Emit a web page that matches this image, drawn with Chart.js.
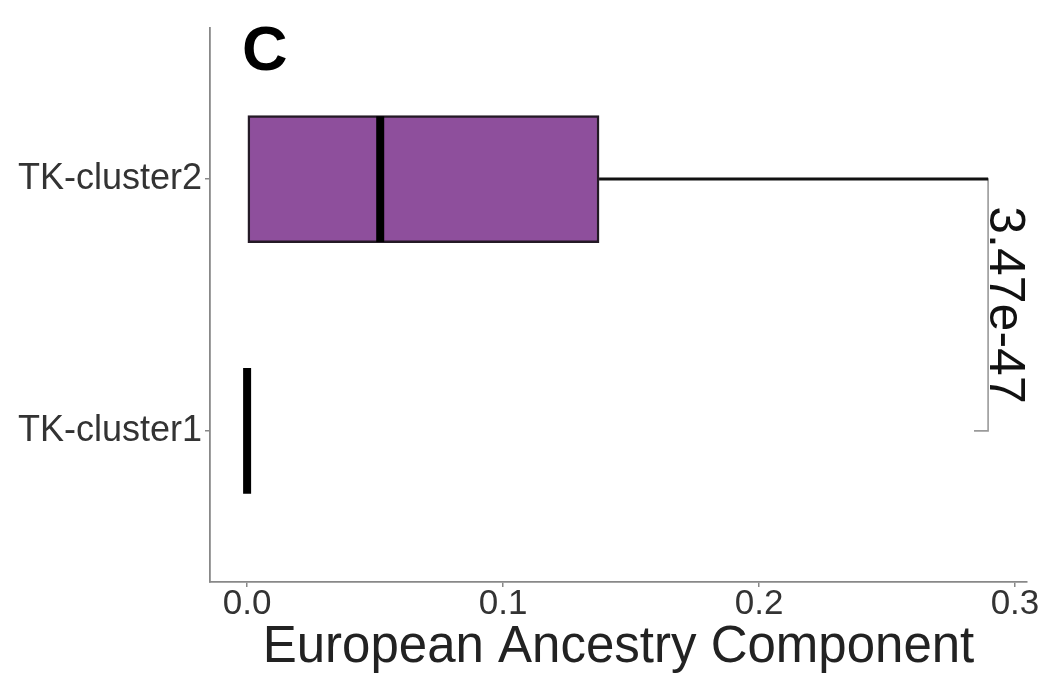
<!DOCTYPE html>
<html>
<head>
<meta charset="utf-8">
<script src="https://cdn.jsdelivr.net/npm/chart.js@4/dist/chart.umd.min.js"></script>
<style>
  html, body { margin: 0; padding: 0; background: #fff; overflow: hidden; }
  #wrap { width: 1039px; height: 675px; position: relative; }
</style>
</head>
<body>
<div id="wrap"><canvas id="c" width="1039" height="675"></canvas></div>
<script>
// ---- data ----
const categories = ['TK-cluster1', 'TK-cluster2'];
const categoryPos = [1, 2];
const q1 = [0, 0];
const median = [0, 0.052];
const q3 = [0, 0.1375];
const whiskerLow = [0, 0];
const whiskerHigh = [0, 0.2895];
const xTicks = [0, 0.1, 0.2, 0.3];
const xTickLabels = ['0.0', '0.1', '0.2', '0.3'];
const pValueLabel = '3.47e-47';
const bracketX = 0.2895;
const bracketTip = 0.0055;
const bracketFrom = 2, bracketTo = 1;
const panelLabel = 'C';
const xTitle = 'European Ancestry Component';

const boxHalf = 0.25;

// build datasets from the arrays
const boxData = categories.map((c, i) => ({ x: [q1[i], q3[i]], y: categoryPos[i] }));
const medianData = [];
const whiskerData = [];
categories.forEach((c, i) => {
  const y = categoryPos[i];
  medianData.push({ x: median[i], y: y - boxHalf }, { x: median[i], y: y + boxHalf }, { x: null, y: null });
  if (whiskerHigh[i] > q3[i]) whiskerData.push({ x: q3[i], y: y }, { x: whiskerHigh[i], y: y }, { x: null, y: null });
  if (whiskerLow[i] < q1[i]) whiskerData.push({ x: whiskerLow[i], y: y }, { x: q1[i], y: y }, { x: null, y: null });
});
const bracketData = [
  { x: bracketX - bracketTip, y: bracketFrom },
  { x: bracketX, y: bracketFrom },
  { x: bracketX, y: bracketTo },
  { x: bracketX - bracketTip, y: bracketTo }
];

const FONT = "'Liberation Sans', Arial, Helvetica, sans-serif";

const annotPlugin = {
  id: 'annot',
  afterDatasetsDraw(chart) {
    const ctx = chart.ctx;
    const xs = chart.scales.x, ys = chart.scales.y;
    // p-value text, rotated
    const px = xs.getPixelForValue(bracketX);
    const pyMid = (ys.getPixelForValue(bracketFrom) + ys.getPixelForValue(bracketTo)) / 2;
    ctx.save();
    ctx.translate(px + 2, pyMid);
    ctx.rotate(Math.PI / 2);
    ctx.font = "50px " + FONT;
    ctx.fillStyle = '#111';
    ctx.textAlign = 'center';
    ctx.textBaseline = 'alphabetic';
    ctx.fillText(pValueLabel, 0, 0);
    ctx.restore();
    // panel label
    ctx.save();
    ctx.font = "bold 63px " + FONT;
    ctx.fillStyle = '#000';
    ctx.textAlign = 'left';
    ctx.textBaseline = 'alphabetic';
    ctx.fillText(panelLabel, 242, 70);
    ctx.restore();
  }
};

new Chart(document.getElementById('c'), {
  type: 'bar',
  data: {
    datasets: [
      {
        type: 'scatter', label: 'bracket', data: bracketData, showLine: true,
        borderColor: '#9a9a9a', borderWidth: 1.6, pointRadius: 0, order: 4
      },
      {
        type: 'scatter', label: 'whiskers', data: whiskerData, showLine: true, spanGaps: false,
        borderColor: '#111', borderWidth: 3, pointRadius: 0, order: 3
      },
      {
        type: 'bar', label: 'box', data: boxData, indexAxis: 'y',
        backgroundColor: '#8e4f9c', borderColor: '#241a26', borderWidth: 2.5,
        borderSkipped: false, barThickness: 127, order: 2
      },
      {
        type: 'scatter', label: 'median', data: medianData, showLine: true, spanGaps: false,
        borderColor: '#000', borderWidth: 8, pointRadius: 0, borderCapStyle: 'butt', order: 1
      }
    ]
  },
  options: {
    responsive: false,
    animation: false,
    indexAxis: 'y',
    layout: { padding: { left: 10, right: 12, top: 28, bottom: 0 } },
    plugins: { legend: { display: false }, tooltip: { enabled: false } },
    scales: {
      x: {
        type: 'linear', position: 'bottom', offset: false,
        min: -0.0145, max: 0.3047,
        afterBuildTicks: s => { s.ticks = xTicks.map(v => ({ value: v })); },
        afterFit: s => { s.height = 93; s.paddingLeft = 0; s.paddingRight = 0; },
        ticks: {
          autoSkip: false, maxRotation: 0, padding: 0,
          color: '#333', font: { family: FONT, size: 35, lineHeight: 1 },
          callback: (v) => xTickLabels[xTicks.indexOf(v)]
        },
        grid: { display: true, offset: false, drawOnChartArea: false, drawTicks: true, tickLength: 5, color: '#888', lineWidth: 1.5 },
        border: { display: true, color: '#888', width: 1.8 },
        title: { display: true, text: xTitle, color: '#222', padding: 0,
                 font: { family: FONT, size: 51, lineHeight: 1.08 } }
      },
      y: {
        type: 'linear', position: 'left', offset: false,
        min: 0.4, max: 2.6,
        afterBuildTicks: s => { s.ticks = categoryPos.map(v => ({ value: v })); },
        afterFit: s => { s.width = 200; s.paddingTop = 0; s.paddingBottom = 0; },
        ticks: {
          autoSkip: false, padding: 3,
          color: '#333', font: { family: FONT, size: 36, lineHeight: 1 },
          callback: (v) => categories[categoryPos.indexOf(v)]
        },
        grid: { display: true, offset: false, drawOnChartArea: false, drawTicks: true, tickLength: 5, color: '#888', lineWidth: 1.5 },
        border: { display: true, color: '#888', width: 1.8 }
      }
    }
  },
  plugins: [annotPlugin]
});
</script>
</body>
</html>
